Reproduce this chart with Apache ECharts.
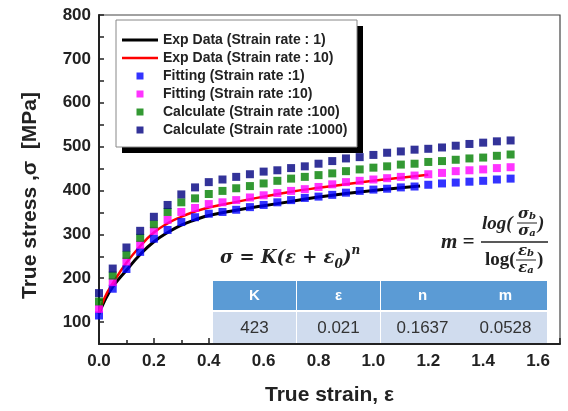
<!DOCTYPE html>
<html>
<head>
<meta charset="utf-8">
<script src="https://cdn.jsdelivr.net/npm/echarts@6/dist/echarts.min.js"></script>
<style>
  html, body { margin: 0; padding: 0; background: #fff; }
  #chart { width: 568px; height: 411px; }
</style>
</head>
<body>
<div id="chart"></div>
<script>
// strain points of the fitted / calculated curves
var strain = [0, 0.05, 0.1, 0.15, 0.2, 0.25, 0.3, 0.35, 0.4, 0.45, 0.5, 0.55, 0.6, 0.65, 0.7, 0.75,
    0.8, 0.85, 0.9, 0.95, 1.0, 1.05, 1.1, 1.15, 1.2, 1.25, 1.3, 1.35, 1.4, 1.45, 1.5];
var fit1 = [115, 176, 221, 260, 290, 310, 328, 339, 347, 351, 356, 362, 367, 373, 378, 383,
    386, 390, 395, 399, 402, 404, 407, 409, 413, 416, 418, 420, 422, 425, 427];
var fit10 = [130, 191, 238, 276, 308, 333, 351, 360, 369, 373, 378, 384, 389, 394, 399, 403,
    408, 414, 419, 422, 425, 428, 431, 434, 437, 440, 444, 446, 448, 451, 453];
var calc100 = [147, 206, 253, 292, 323, 351, 373, 382, 392, 399, 405, 410, 416, 422, 427, 431,
    435, 439, 444, 448, 452, 455, 459, 461, 465, 467, 470, 473, 475, 479, 482];
var calc1000 = [166, 222, 270, 308, 340, 367, 391, 407, 419, 425, 431, 437, 443, 446, 451, 455,
    461, 467, 473, 476, 481, 486, 489, 493, 495, 498, 502, 506, 509, 512, 514];

// experimental curves
var expStrain1 = [0, 0.02, 0.05, 0.1, 0.15, 0.2, 0.25, 0.3, 0.35, 0.4, 0.5, 0.6, 0.7, 0.8, 0.9, 1.0, 1.1, 1.17];
var expStress1 = [118, 148, 180, 218, 254, 283, 304, 321, 333, 343, 355, 365, 375, 385, 393, 400, 406, 410];
var expStrain10 = [0, 0.02, 0.05, 0.1, 0.15, 0.2, 0.25, 0.3, 0.35, 0.4, 0.5, 0.6, 0.7, 0.8, 0.9, 1.0, 1.1, 1.2];
var expStress10 = [120, 155, 188, 235, 273, 304, 325, 340, 352, 361, 374, 386, 397, 406, 414, 422, 429, 436];

var seriesNames = ['Exp Data (Strain rate : 1)', 'Exp Data (Strain rate : 10)',
    'Fitting (Strain rate :1)', 'Fitting (Strain rate :10)',
    'Calculate (Strain rate :100)', 'Calculate (Strain rate :1000)'];

var tableHeader = ['K', 'ε', 'n', 'm'];
var tableValues = ['423', '0.021', '0.1637', '0.0528'];

function pairs(xs, ys) {
    var out = [];
    for (var i = 0; i < xs.length; i++) out.push([xs[i], ys[i]]);
    return out;
}

var sans = 'Liberation Sans, Arial, sans-serif';
var serif = 'DejaVu Serif, serif';
var tserif = 'Liberation Serif, serif';

var dom = document.getElementById('chart');
var myChart = echarts.init(dom, null, {renderer: 'canvas'});

// legend frame with its black drop shadow
var legendBox = [
    {type: 'rect', z: 5, shape: {x: 122, y: 26, width: 241, height: 127}, style: {fill: '#000'}},
    {type: 'rect', z: 6, shape: {x: 116, y: 20, width: 241, height: 127}, style: {fill: '#fff', stroke: '#888', lineWidth: 1}}
];

// table cells
var colX = [213, 297, 381, 464];
var colW = 83;
var tableEls = [];
for (var i = 0; i < tableHeader.length; i++) {
    tableEls.push({
        type: 'rect', shape: {x: colX[i], y: 281, width: colW, height: 29},
        style: {fill: '#5B9BD5'}, z: 10
    });
    tableEls.push({
        type: 'rect', shape: {x: colX[i], y: 312, width: colW, height: 31},
        style: {fill: '#D0DCEE'}, z: 10
    });
    tableEls.push({
        type: 'text', x: colX[i] + colW / 2, y: 296, z: 11,
        style: {text: tableHeader[i], fill: '#fff', font: 'bold 15px ' + sans, align: 'center', verticalAlign: 'middle'}
    });
    tableEls.push({
        type: 'text', x: colX[i] + colW / 2, y: 328, z: 11,
        style: {text: tableValues[i], fill: '#333', font: '17px ' + sans, align: 'center', verticalAlign: 'middle'}
    });
}

var fBold = 'italic bold ';
function smallFrac(x, y, base, idx) {
    return {type: 'text', x: x, y: y, z: 11, style: {text: '{a|' + base + '}{b|' + idx + '}', align: 'center', verticalAlign: 'middle',
        rich: {a: {font: fBold + '15px ' + serif, fill: '#222'}, b: {font: fBold + '10px ' + serif, fill: '#222', verticalAlign: 'bottom', padding: [4, 0, 0, 0]}}}};
}
var formulaEls = [
    {
        type: 'text', x: 220, y: 258, z: 11,
        style: {
            text: '{m|σ = K(ε + ε}{s|0}{m|)}{p|n}',
            verticalAlign: 'middle',
            rich: {
                m: {font: fBold + '18px ' + serif, fill: '#222', lineHeight: 26},
                s: {font: fBold + '12px ' + serif, fill: '#222', verticalAlign: 'bottom', lineHeight: 14},
                p: {font: fBold + '12px ' + serif, fill: '#222', verticalAlign: 'top', lineHeight: 14}
            }
        }
    },
    {type: 'text', x: 441, y: 243, z: 11, style: {text: 'm =', font: fBold + '21px ' + tserif, fill: '#222', verticalAlign: 'middle'}},
    {type: 'line', z: 11, shape: {x1: 481, y1: 242, x2: 548, y2: 242}, style: {stroke: '#222', lineWidth: 1.3}},
    // numerator
    {type: 'text', x: 482, y: 224, z: 11, style: {text: 'log(', font: fBold + '19px ' + tserif, fill: '#222', verticalAlign: 'middle'}},
    smallFrac(527, 214, 'σ', 'b'),
    {type: 'line', z: 11, shape: {x1: 517, y1: 223, x2: 537, y2: 223}, style: {stroke: '#222', lineWidth: 1}},
    smallFrac(527, 231, 'σ', 'a'),
    {type: 'text', x: 538, y: 224, z: 11, style: {text: ')', font: fBold + '19px ' + tserif, fill: '#222', verticalAlign: 'middle'}},
    // denominator
    {type: 'text', x: 485, y: 260, z: 11, style: {text: 'log(', font: 'bold 19px ' + tserif, fill: '#222', verticalAlign: 'middle'}},
    smallFrac(526, 251, 'ε', 'b'),
    {type: 'line', z: 11, shape: {x1: 516, y1: 260, x2: 536, y2: 260}, style: {stroke: '#222', lineWidth: 1}},
    smallFrac(526, 268, 'ε', 'a'),
    {type: 'text', x: 537, y: 260, z: 11, style: {text: ')', font: 'bold 19px ' + tserif, fill: '#222', verticalAlign: 'middle'}}
];

var scatterStyle = function (name, color) {
    return {
        name: name, type: 'scatter', symbol: 'rect', symbolSize: 8,
        itemStyle: {color: color}, z: 3
    };
};

var s1 = scatterStyle(seriesNames[2], '#0000FF'); s1.data = pairs(strain, fit1);
var s2 = scatterStyle(seriesNames[3], '#FF00FF'); s2.data = pairs(strain, fit10);
var s3 = scatterStyle(seriesNames[4], '#008000'); s3.data = pairs(strain, calc100);
var s4 = scatterStyle(seriesNames[5], '#000080'); s4.data = pairs(strain, calc1000);

var squareIcon = 'path://M0,0L10,0L10,10L0,10Z';

option = {
    animation: false,
    backgroundColor: '#fff',
    grid: {
        left: 99, top: 15, right: 8, bottom: 63,
        show: true, borderColor: '#444', borderWidth: 1.2
    },
    legend: {
        orient: 'vertical',
        left: 116, top: 20, z: 8,
        padding: [13, 7, 11, 6],
        itemWidth: 36, itemHeight: 7, itemGap: 4,
        symbolKeepAspect: true,
        textStyle: {fontFamily: sans, fontWeight: 'bold', fontSize: 14, color: '#222'},
        data: [
            {name: seriesNames[0], icon: 'path://M0,0L36,0L36,3L0,3Z'},
            {name: seriesNames[1], icon: 'path://M0,0L36,0L36,2.5L0,2.5Z'},
            {name: seriesNames[2], icon: squareIcon},
            {name: seriesNames[3], icon: squareIcon},
            {name: seriesNames[4], icon: squareIcon},
            {name: seriesNames[5], icon: squareIcon}
        ]
    },
    xAxis: {
        type: 'value', min: 0, max: 1.68, interval: 0.2,
        name: 'True strain, ε', nameLocation: 'middle', nameGap: 41,
        nameTextStyle: {fontFamily: sans, fontWeight: 'bold', fontSize: 21, color: '#222'},
        axisLine: {show: true, lineStyle: {color: '#222', width: 2}},
        axisTick: {show: true, inside: true, length: 6, lineStyle: {color: '#222', width: 1.5}},
        minorTick: {show: true, splitNumber: 2, length: 4, lineStyle: {color: '#222', width: 1.5}},
        splitLine: {show: false},
        axisLabel: {
            margin: 9, fontFamily: sans, fontWeight: 'bold', fontSize: 17, color: '#222',
            formatter: function (v) {
                return Math.abs(v * 5 - Math.round(v * 5)) < 1e-6 ? v.toFixed(1) : '';
            }
        }
    },
    yAxis: {
        type: 'value', min: 50, max: 800, interval: 50,
        name: 'True stress ,σ  [MPa]', nameLocation: 'middle', nameGap: 58,
        nameTextStyle: {fontFamily: sans, fontWeight: 'bold', fontSize: 21, color: '#222', padding: [0, 32, 0, 0]},
        axisLine: {show: true, lineStyle: {color: '#222', width: 2}},
        axisTick: {show: true, inside: true, length: 5, lineStyle: {color: '#222', width: 1.5}},
        splitLine: {show: false},
        axisLabel: {
            margin: 8, fontFamily: sans, fontWeight: 'bold', fontSize: 17, color: '#222',
            formatter: function (v) { return v % 100 === 0 ? String(v) : ''; }
        }
    },
    graphic: legendBox.concat(tableEls, formulaEls),
    series: [
        {
            name: seriesNames[0], type: 'line', smooth: true, showSymbol: false, symbol: 'none',
            data: pairs(expStrain1, expStress1),
            itemStyle: {color: '#000'}, lineStyle: {color: '#000', width: 3}, z: 2
        },
        {
            name: seriesNames[1], type: 'line', smooth: true, showSymbol: false, symbol: 'none',
            data: pairs(expStrain10, expStress10),
            itemStyle: {color: '#FF0000'}, lineStyle: {color: '#FF0000', width: 2.5}, z: 2
        },
        s1, s2, s3, s4
    ]
};

if (option && typeof option === 'object') {
    myChart.setOption(option, true);
}
</script>
</body>
</html>
